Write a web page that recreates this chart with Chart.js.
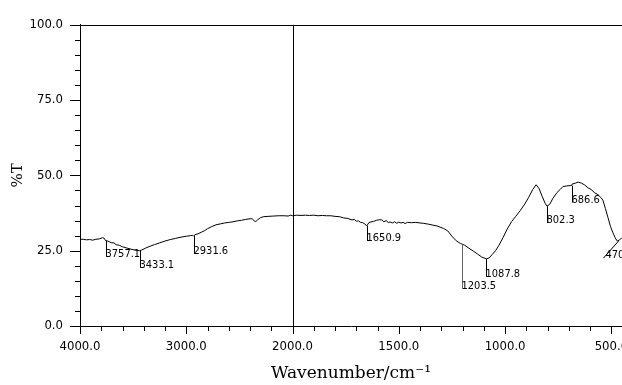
<!DOCTYPE html>
<html lang="en">
<head>
<meta charset="UTF-8">
<title>IR spectrum</title>
<script src="https://cdn.jsdelivr.net/npm/chart.js"></script>
<style>
    html, body { margin: 0; padding: 0; background: #fff; overflow: hidden; }
    .wrap { position: relative; width: 622px; height: 385px; }
</style>
</head>
<body>
<div class="wrap"><canvas id="irChart"></canvas></div>
<script>
// spectrum, values (cm-1 / %T)
const wavenumbers = [
    4000, 3970, 3940, 3910, 3880, 3850, 3820, 3790, 3775, 3760,
    3740, 3720, 3700, 3680, 3660, 3630, 3600, 3560, 3520, 3480,
    3440, 3420, 3380, 3340, 3300, 3250, 3200, 3150, 3100, 3050,
    3000, 2960, 2940, 2932, 2920, 2890, 2860, 2830, 2800, 2760,
    2720, 2680, 2640, 2600, 2560, 2520, 2480, 2440, 2400, 2380,
    2360, 2345, 2330, 2300, 2270, 2230, 2180, 2130, 2080, 2040,
    2020, 2000, 1980, 1960, 1940, 1920, 1900, 1880, 1860, 1840,
    1820, 1800, 1780, 1760, 1740, 1720, 1710, 1700, 1690, 1680,
    1670, 1660, 1651, 1640, 1620, 1605, 1590, 1580, 1570, 1560,
    1550, 1540, 1530, 1520, 1510, 1500, 1490, 1480, 1470, 1460,
    1440, 1420, 1400, 1385, 1360, 1340, 1320, 1290, 1270, 1250,
    1230, 1210, 1190, 1170, 1150, 1130, 1110, 1088, 1075, 1060,
    1045, 1030, 1010, 990, 970, 950, 930, 910, 890, 870,
    854, 840, 826, 812, 803, 790, 775, 756, 740, 728,
    710, 695, 688, 685, 670, 657, 640, 625, 610, 595,
    580, 563, 550, 540, 528, 516, 504, 493, 482, 474,
    470, 462, 451
];
const transmittance = [
    28.8, 28.8, 28.6, 28.7, 28.5, 28.8, 28.9, 29.3, 29.2, 28.4,
    28.2, 27.9, 27.6, 27.6, 27.0, 26.8, 26.3, 25.9, 25.5, 25.2,
    25.0, 25.2, 25.9, 26.5, 27.0, 27.6, 28.2, 28.7, 29.1, 29.5,
    29.8, 30.0, 30.1, 29.8, 30.3, 30.6, 31.1, 31.6, 32.3, 33.0,
    33.6, 33.9, 34.2, 34.4, 34.6, 34.9, 35.1, 35.4, 35.6, 35.6,
    34.9, 34.7, 35.2, 36.0, 36.3, 36.4, 36.5, 36.6, 36.6, 36.5,
    36.8, 36.6, 36.8, 36.7, 36.8, 36.7, 36.8, 36.6, 36.7, 36.6,
    36.6, 36.4, 36.3, 35.9, 35.7, 35.2, 35.4, 34.8, 34.9, 34.4,
    34.3, 33.9, 33.2, 34.4, 34.7, 35.1, 35.3, 35.2, 34.6, 35.0,
    34.4, 34.5, 34.2, 34.6, 34.1, 34.5, 34.2, 34.4, 34.0, 34.4,
    34.3, 34.4, 34.2, 34.1, 33.8, 33.5, 33.2, 32.4, 31.6, 29.8,
    28.3, 27.4, 26.8, 25.8, 24.9, 23.9, 22.9, 22.3, 22.6, 23.8,
    25.0, 26.7, 29.3, 32.2, 34.6, 36.4, 38.2, 40.2, 42.6, 45.3,
    46.9, 45.6, 43.1, 40.8, 39.8, 40.4, 42.4, 44.3, 45.4, 46.3,
    46.5, 46.6, 46.6, 47.1, 47.4, 47.8, 47.4, 46.8, 45.9, 45.3,
    44.3, 43.6, 42.7, 41.8, 39.0, 36.0, 33.0, 31.0, 29.3, 28.3,
    28.2, 28.6, 29.2
];

// labelled bands
const peakWavenumbers = [3757.1, 3433.1, 2931.6, 1650.9, 1203.5, 1087.8, 802.3, 686.6, 470];
const peakTransmittance = [28.3, 25.0, 30.0, 33.2, 27.3, 22.3, 39.8, 46.6, 28.2];
const peakLabels = ['3757.1', '3433.1', '2931.6', '1650.9', '1203.5', '1087.8', '802.3', '686.6', '470'];

// axis ticks
const xTickWavenumbers = [4000, 3000, 2000, 1500, 1000, 500];
const xTickLabels = ['4000.0', '3000.0', '2000.0', '1500.0', '1000.0', '500.0'];
const yTickValues = [0, 25, 50, 75, 100];
const yTickLabels = ['0.0', '25.0', '50.0', '75.0', '100.0'];

// marker line styling (pixels)
const markerLen = [16, 17, 18, 15, 45, 18, 17, 17, 17];
const markerColor = ['#000', '#000', '#000', '#000', '#666', '#000', '#000', '#000', '#000'];

// split axis: 4000-2000 at 1000 per unit, 2000-450 at 500 per unit
function toAxis(w) {
    return w >= 2000 ? (4000 - w) / 1000 : 2 + (2000 - w) / 500;
}

const tickFont = { family: '"DejaVu Sans Condensed", "Liberation Sans", sans-serif', size: 13 };
const labelFont = '11px "DejaVu Sans Condensed", "Liberation Sans", sans-serif';

const crisp = v => Math.round(v) + 0.5;

const spectrumDecor = {
    id: 'spectrumDecor',
    afterDraw(chart) {
        const { ctx, chartArea: a, scales: { x, y } } = chart;
        ctx.save();
        ctx.strokeStyle = '#000';
        ctx.lineWidth = 1;
        ctx.beginPath();
        // top frame line
        ctx.moveTo(a.left, crisp(a.top));
        ctx.lineTo(chart.width, crisp(a.top));
        // break at 2000
        const xb = crisp(x.getPixelForValue(toAxis(2000)));
        ctx.moveTo(xb, a.top);
        ctx.lineTo(xb, a.bottom);
        // y ticks every 5 %T
        for (let v = 0; v <= 100; v += 5) {
            const py = crisp(y.getPixelForValue(v));
            const len = v % 25 === 0 ? 10 : 5;
            ctx.moveTo(a.left - len, py);
            ctx.lineTo(a.left, py);
        }
        // x ticks every 0.2 axis unit
        for (let i = 0; i <= 25; i++) {
            const px = crisp(x.getPixelForValue(i / 5));
            const len = i % 5 === 0 ? 8 : 5;
            ctx.moveTo(px, a.bottom);
            ctx.lineTo(px, a.bottom + len);
        }
        ctx.stroke();

        // band markers
        ctx.font = labelFont;
        ctx.fillStyle = '#000';
        ctx.textAlign = 'left';
        ctx.textBaseline = 'alphabetic';
        peakWavenumbers.forEach((w, i) => {
            const px = crisp(x.getPixelForValue(toAxis(w)));
            const py = y.getPixelForValue(peakTransmittance[i]);
            const len = markerLen[i];
            ctx.strokeStyle = markerColor[i];
            ctx.beginPath();
            if (i === peakWavenumbers.length - 1) {
                ctx.moveTo(px, py);
                ctx.lineTo(px - 15, py + len);
                ctx.stroke();
                ctx.fillText(peakLabels[i], px - 13, py + len);
            } else {
                ctx.moveTo(px, py);
                ctx.lineTo(px, py + len);
                ctx.stroke();
                ctx.fillText(peakLabels[i], px - 1, py + len);
            }
        });
        ctx.restore();
    }
};

const xTickPositions = xTickWavenumbers.map(toAxis);

new Chart(document.getElementById('irChart'), {
    type: 'line',
    data: {
        datasets: [{
            data: wavenumbers.map((w, i) => ({ x: toAxis(w), y: transmittance[i] })),
            borderColor: '#000',
            borderWidth: 1,
            pointRadius: 0,
            tension: 0,
            fill: false
        }]
    },
    options: {
        responsive: true,
        maintainAspectRatio: false,
        animation: false,
        events: [],
        layout: { padding: { top: 22, right: 0, left: 0, bottom: 0 } },
        plugins: { legend: { display: false }, tooltip: { enabled: false } },
        scales: {
            x: {
                type: 'linear',
                min: 0,
                max: toAxis(450),
                afterFit: s => { s.height = 59; s.paddingRight = 0; },
                afterBuildTicks: s => {
                    const t = [];
                    for (let i = 0; i <= 25; i++) t.push({ value: i / 5 });
                    s.ticks = t;
                },
                grid: { display: false, drawTicks: false },
                border: { display: true, color: '#000', width: 1 },
                ticks: {
                    autoSkip: false,
                    maxRotation: 0,
                    padding: 13,
                    color: '#000',
                    font: tickFont,
                    callback: v => {
                        const k = xTickPositions.findIndex(p => Math.abs(p - v) < 1e-6);
                        return k >= 0 ? xTickLabels[k] : '';
                    }
                },
                title: {
                    display: true,
                    text: 'Wavenumber/cm⁻¹',
                    color: '#000',
                    font: { family: '"DejaVu Serif", "Liberation Serif", serif', size: 17 },
                    padding: { top: 0, bottom: 1 }
                }
            },
            y: {
                min: 0,
                max: 100,
                afterFit: s => { s.width = 80; },
                afterBuildTicks: s => {
                    const t = [];
                    for (let v = 0; v <= 100; v += 5) t.push({ value: v });
                    s.ticks = t;
                },
                grid: { display: false, drawTicks: false },
                border: { display: true, color: '#000', width: 1 },
                ticks: {
                    autoSkip: false,
                    padding: 17,
                    color: '#000',
                    font: tickFont,
                    callback: v => {
                        const k = yTickValues.indexOf(v);
                        return k >= 0 ? yTickLabels[k] : '';
                    }
                },
                title: {
                    display: true,
                    text: '%T',
                    color: '#000',
                    font: { family: '"DejaVu Serif", "Liberation Serif", serif', size: 15 },
                    padding: { top: 9, bottom: 0 }
                }
            }
        }
    },
    plugins: [spectrumDecor]
});
</script>
</body>
</html>
